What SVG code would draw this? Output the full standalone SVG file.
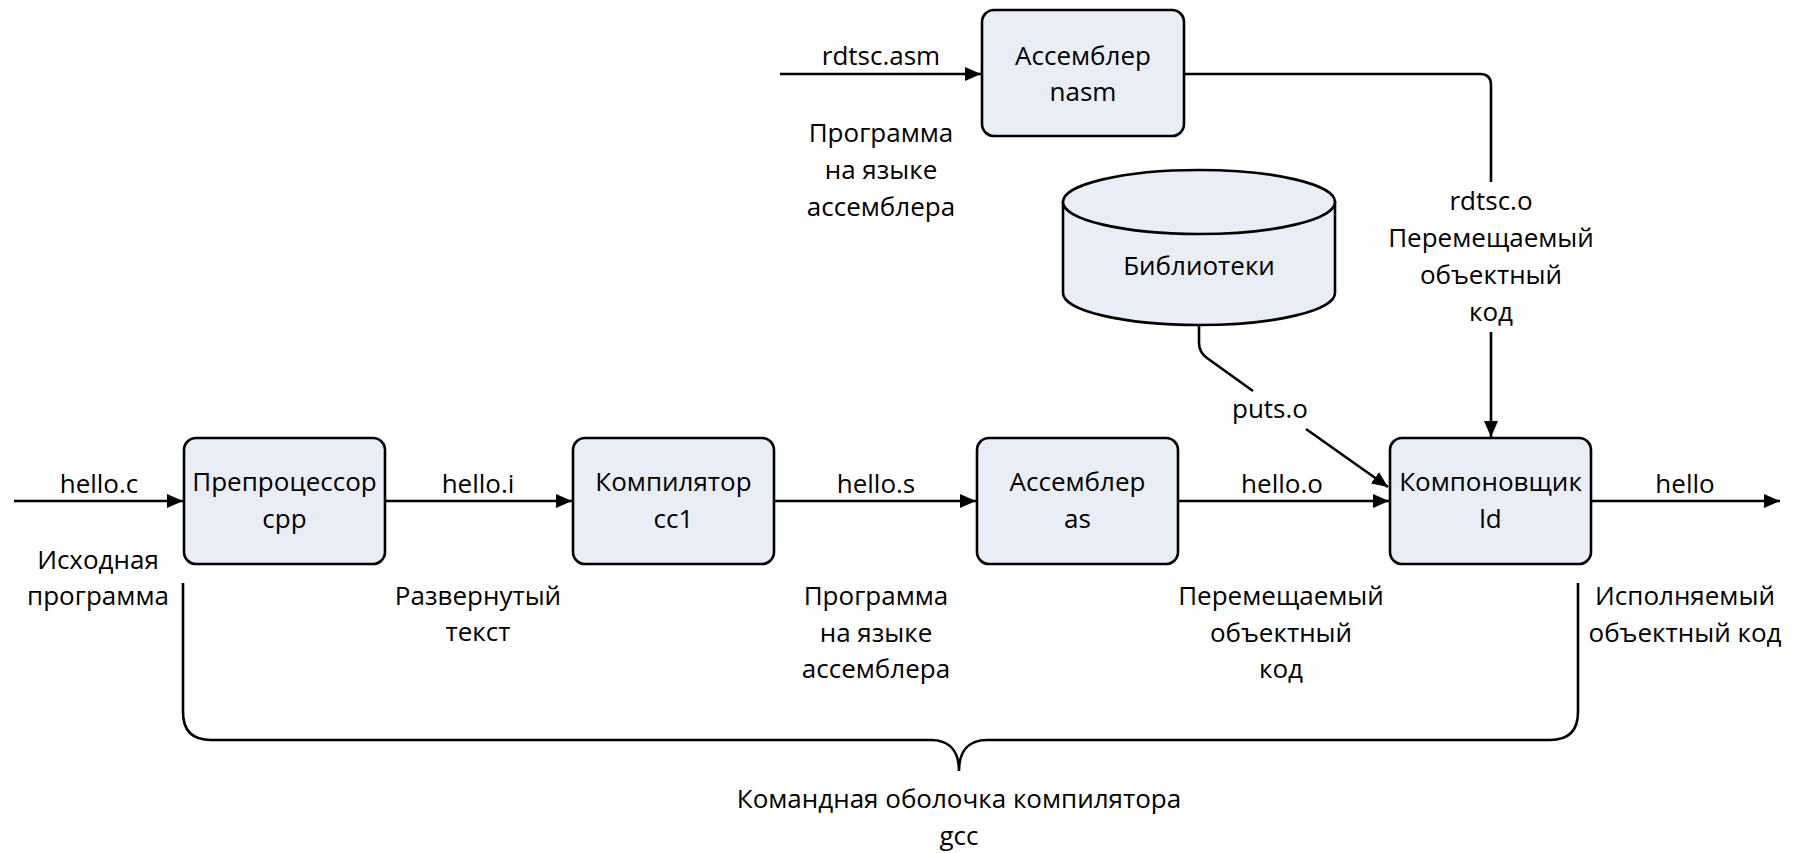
<svg xmlns="http://www.w3.org/2000/svg" width="1805" height="853" viewBox="0 0 1805 853">
<style>
text{font-family:"Open Sans","Noto Sans","DejaVu Sans",sans-serif;font-size:26px;fill:#000;text-anchor:middle}
.box{fill:#E9EDF6;stroke:#000;stroke-width:2.6}
.ln{fill:none;stroke:#000;stroke-width:2.6}
</style>
<defs>
<marker id="ah" markerUnits="userSpaceOnUse" markerWidth="17" markerHeight="15" refX="16" refY="7" orient="auto">
<path d="M0,0 L16,7 L0,14 z" fill="#000"/>
</marker>
</defs>
<rect width="1805" height="853" fill="#fff"/>

<g id="connectors">
<path class="ln" d="M14,501 H183" marker-end="url(#ah)"/>
<path class="ln" d="M385,501 H572" marker-end="url(#ah)"/>
<path class="ln" d="M774,501 H976" marker-end="url(#ah)"/>
<path class="ln" d="M1178,501 H1389" marker-end="url(#ah)"/>
<path class="ln" d="M1591,501 H1780" marker-end="url(#ah)"/>
<path class="ln" d="M780,74 H981" marker-end="url(#ah)"/>
<path class="ln" d="M1184,74 H1480 Q1491,74 1491,85 V182"/>
<path class="ln" d="M1491,332 V437" marker-end="url(#ah)"/>
<path class="ln" d="M1199,325 V343 Q1199,352 1207,358 L1253,391"/>
<path class="ln" d="M1306,429 L1388,487" marker-end="url(#ah)"/>
<path class="ln" d="M183,583 V712 Q183,740 211,740 H931 C950,740 959,752 959,771 C959,752 968,740 987,740 H1550 Q1578,740 1578,712 V583"/>
</g>

<g id="labels">
<text x="99" y="493">hello.c</text>
<text x="478" y="493">hello.i</text>
<text x="876" y="493">hello.s</text>
<text x="1282" y="493">hello.o</text>
<text x="1685" y="493">hello</text>
<text x="98" y="569">Исходная</text>
<text x="98" y="605">программа</text>
<text x="478" y="605">Развернутый</text>
<text x="478" y="641">текст</text>
<text x="876" y="605">Программа</text>
<text x="876" y="642">на языке</text>
<text x="876" y="678">ассемблера</text>
<text x="1281" y="605">Перемещаемый</text>
<text x="1281" y="642">объектный</text>
<text x="1281" y="678">код</text>
<text x="1685" y="605">Исполняемый</text>
<text x="1685" y="642">объектный код</text>
<text x="881" y="65">rdtsc.asm</text>
<text x="881" y="142">Программа</text>
<text x="881" y="179">на языке</text>
<text x="881" y="216">ассемблера</text>
<text x="1491" y="210">rdtsc.o</text>
<text x="1491" y="247">Перемещаемый</text>
<text x="1491" y="284">объектный</text>
<text x="1491" y="321">код</text>
<text x="1270" y="418">puts.o</text>
<text x="959" y="808">Командная оболочка компилятора</text>
<text x="959" y="845">gcc</text>
</g>

<g id="cpp">
<rect class="box" x="184" y="438" width="201" height="126" rx="12"/>
<text x="284.5" y="491">Препроцессор</text>
<text x="284.5" y="528">cpp</text>
</g>
<g id="cc1">
<rect class="box" x="573" y="438" width="201" height="126" rx="12"/>
<text x="673.5" y="491">Компилятор</text>
<text x="673.5" y="528">cc1</text>
</g>
<g id="as">
<rect class="box" x="977" y="438" width="201" height="126" rx="12"/>
<text x="1077.5" y="491">Ассемблер</text>
<text x="1077.5" y="528">as</text>
</g>
<g id="ld">
<rect class="box" x="1390" y="438" width="201" height="126" rx="12"/>
<text x="1490.5" y="491">Компоновщик</text>
<text x="1490.5" y="528">ld</text>
</g>
<g id="nasm">
<rect class="box" x="982" y="10" width="202" height="126" rx="12"/>
<text x="1083" y="65">Ассемблер</text>
<text x="1083" y="101">nasm</text>
</g>
<g id="libs">
<path class="box" d="M1063,202 V293 A136,32 0 0 0 1335,293 V202 Z"/>
<ellipse class="box" cx="1199" cy="202" rx="136" ry="32"/>
<text x="1199" y="275">Библиотеки</text>
</g>
</svg>
